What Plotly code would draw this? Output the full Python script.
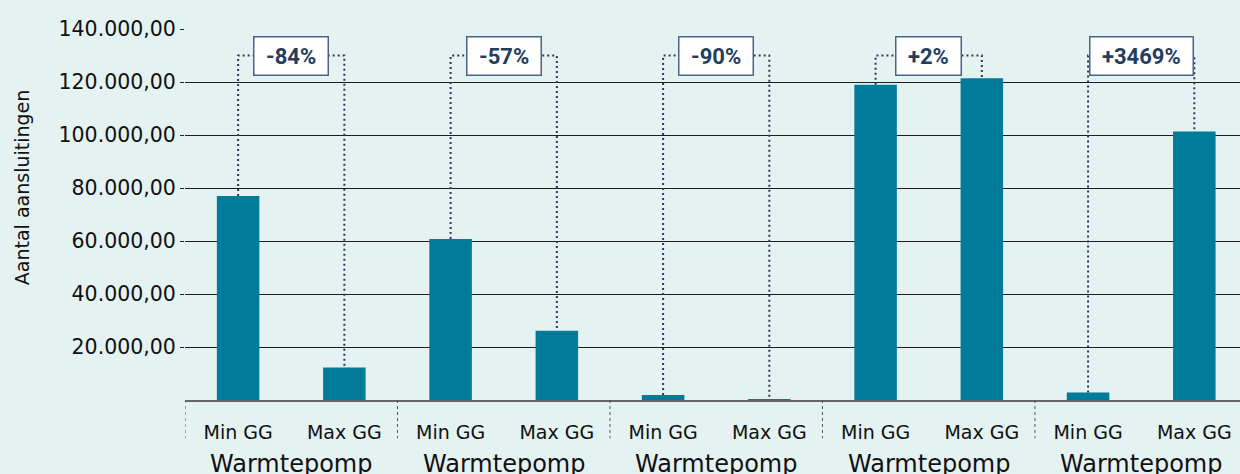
import plotly.graph_objects as go

# ---- data ----
group_labels = ["Warmtepomp", "Warmtepomp", "Warmtepomp", "Warmtepomp", "Warmtepomp"]
sub_labels = ["Min GG", "Max GG"]
min_gg = [77000, 60800, 1900, 119000, 2840]
max_gg = [12300, 26100, 190, 121400, 101300]
change_labels = ["-84%", "-57%", "-90%", "+2%", "+3469%"]
y_tick_values = [20000, 40000, 60000, 80000, 100000, 120000, 140000]
y_title = "Aantal aansluitingen"
bracket_level = 130000

BG = "#e4f2f2"
BAR = "#007b9a"
NAVY = "#243c5e"
FONT = "DejaVu Sans"

values = []
ticktext = []
for a, b in zip(min_gg, max_gg):
    values += [a, b]
    ticktext += sub_labels
positions = list(range(len(values)))

fig = go.Figure()
fig.add_trace(go.Bar(x=positions, y=values, marker_color=BAR, marker_line_width=0,
                     width=0.4, showlegend=False, hoverinfo="y"))

# dotted connectors
for k, (a, b) in enumerate(zip(min_gg, max_gg)):
    i, j = 2 * k, 2 * k + 1
    fig.add_trace(go.Scatter(x=[i, i, j, j], y=[a, bracket_level, bracket_level, b],
                             mode="lines", line=dict(color=NAVY, width=2, dash="2px,3px"),
                             showlegend=False, hoverinfo="skip"))

annotations = []
for k, t in enumerate(change_labels):
    annotations.append(dict(x=2 * k + 0.5, y=bracket_level, xref="x", yref="y",
                            text="<b>\u00a0" + t + "\u00a0</b>", showarrow=False,
                            font=dict(family="Roboto", size=22, color=NAVY),
                            bgcolor="white", bordercolor="#4b6484", borderwidth=1.5,
                            borderpad=6))
    annotations.append(dict(x=2 * k + 0.5, y=-0.172, xref="x", yref="paper",
                            text=group_labels[k], showarrow=False, yanchor="middle",
                            font=dict(family=FONT, size=24, color="#111")))

annotations.append(dict(x=0, y=0.571, xref="paper", yref="paper", xshift=-163,
                        xanchor="center", yanchor="middle",
                        text=y_title, textangle=-90, showarrow=False,
                        font=dict(family=FONT, size=19, color="#111")))

shapes = []
for k in range(len(group_labels) + 1):
    shapes.append(dict(type="line", xref="x", yref="paper", x0=2 * k - 0.5, x1=2 * k - 0.5,
                       y0=0, y1=-0.103, line=dict(color="#555", width=1, dash="dot")))

fig.update_layout(
    width=1240, height=474,
    margin=dict(l=185, r=0, t=29, b=74),
    paper_bgcolor=BG, plot_bgcolor=BG,
    separators=",.",
    bargap=0.6,
    annotations=annotations,
    shapes=shapes,
    font=dict(family=FONT, color="#111"),
)
fig.update_xaxes(range=[-0.5, 9.43], tickvals=positions, ticktext=ticktext,
                 showgrid=False, zeroline=False, showline=True, linecolor="#666", linewidth=2,
                 ticks="", ticklabelstandoff=14, tickfont=dict(family=FONT, size=19, color="#111"))
fig.update_yaxes(range=[0, 140000], tickvals=y_tick_values, tickformat=",.2f",
                 showgrid=True, gridcolor="#1e1e1e", gridwidth=1, zeroline=False,
                 ticks="outside", ticklen=4, tickcolor="#1e1e1e",
                 tickfont=dict(family=FONT, size=20.5, color="#111"))

fig.write_html("out.html", config={"displayModeBar": False},
               post_script="document.body.style.margin='0';document.body.style.overflow='hidden';")
